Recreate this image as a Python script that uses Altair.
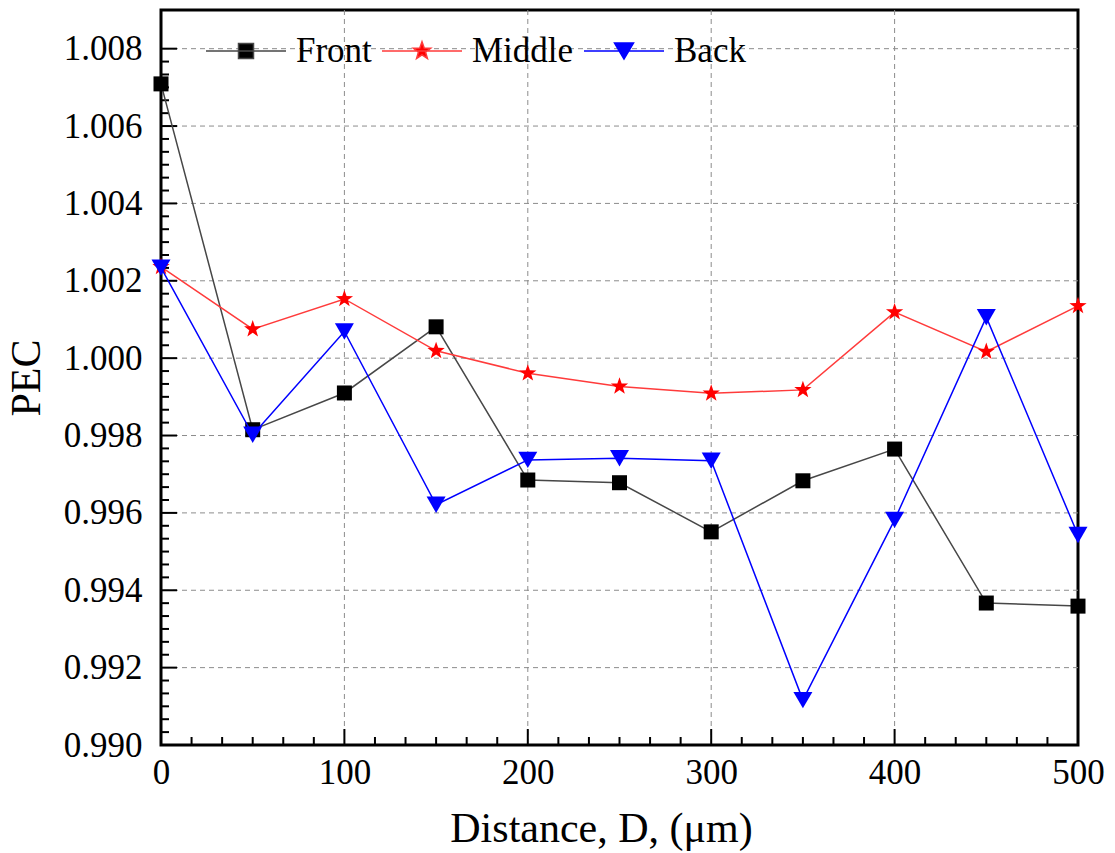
import math
import altair as alt
import pandas as pd

# Measured PEC along the sample, three positions
distance = [0, 50, 100, 150, 200, 250, 300, 350, 400, 450, 500]
front = [1.00709, 0.99815, 0.99910, 1.00081, 0.99685, 0.99678,
         0.99551, 0.99683, 0.99765, 0.99367, 0.99359]
middle = [1.00236, 1.00075, 1.00153, 1.00019, 0.99961, 0.99927,
          0.99909, 0.99918, 1.00119, 1.00017, 1.00135]
back = [1.00234, 0.99802, 1.00069, 0.99621, 0.99737, 0.99741,
        0.99735, 0.99116, 0.99582, 1.00106, 0.99543]

series = ["Front", "Middle", "Back"]
line_colors = ["#474747", "#ff3b3b", "#0000ff"]
marker_colors = ["#000000", "#ff0000", "#0000ff"]

x_major = [0, 100, 200, 300, 400, 500]
y_major = [0.990, 0.992, 0.994, 0.996, 0.998, 1.000, 1.002, 1.004, 1.006, 1.008]
x_grid = [100, 200, 300, 400]
y_grid = [0.992, 0.994, 0.996, 0.998, 1.000, 1.002, 1.004, 1.006, 1.008]
x_minor = [i * 100 / 6 for i in range(31) if i % 6]
y_minor = [0.990 + i * 0.002 / 6 for i in range(55) if i % 6]

FONT = "Liberation Serif"
W, H = 917, 735

df = pd.DataFrame({
    "distance": distance * 3,
    "pec": front + middle + back,
    "series": ["Front"] * 11 + ["Middle"] * 11 + ["Back"] * 11,
})


def star_path(outer, inner):
    pts = []
    for k in range(10):
        rad = outer if k % 2 == 0 else inner
        ang = -math.pi / 2 + k * math.pi / 5
        pts.append(f"{rad * math.cos(ang):.4f},{rad * math.sin(ang):.4f}")
    return "M" + "L".join(pts) + "Z"


star_marker = star_path(1.0, 0.4)
# legend keys: a short line with the marker in its middle
legend_shapes = [
    "M-1,0H1M-0.1875,-0.1875H0.1875V0.1875H-0.1875Z",
    "M-1,0H1" + star_path(0.23, 0.095),
    "M-1,0H1M-0.2375,-0.2L0.2375,-0.2L0,0.2Z",
]
marker_shapes = ["square", star_marker, "triangle-down"]
marker_sizes = [225, 330, 361]

x_scale = alt.Scale(domain=[0, 500], nice=False, zero=False)
y_scale = alt.Scale(domain=[0.990, 1.009], nice=False, zero=False)

x_axis = alt.Axis(
    title="Distance, D, (μm)", values=x_major, format="d",
    ticks=False, domain=False, grid=False,
    labelFont=FONT, labelPadding=10, labelFlush=False, labelOverlap=False,
    titleX=440, titleY=83, titleAlign="center", titleBaseline="middle",
)
y_axis = alt.Axis(
    title="PEC", values=y_major, format=".3f",
    ticks=False, domain=False, grid=False,
    labelFont=FONT, labelPadding=19, labelFlush=False, labelOverlap=False,
    titleX=-135, titleY=H / 2, titleAngle=270, titleAlign="center", titleBaseline="middle",
)

base = alt.Chart(df)

# axes with labels and titles
frame = base.mark_point(opacity=0).encode(
    x=alt.X("distance:Q", scale=x_scale, axis=x_axis),
    y=alt.Y("pec:Q", scale=y_scale, axis=y_axis),
)

# dashed grid at the interior major values
grid_x = alt.Chart(pd.DataFrame({"v": x_grid})).mark_rule(
    color="#8c8c8c", strokeWidth=1, strokeDash=[5, 4]
).encode(x=alt.X("v:Q", scale=x_scale))
grid_y = alt.Chart(pd.DataFrame({"v": y_grid})).mark_rule(
    color="#8c8c8c", strokeWidth=1, strokeDash=[5, 4]
).encode(y=alt.Y("v:Q", scale=y_scale))


def x_ticks(values, length):
    return alt.Chart(pd.DataFrame({"v": values})).mark_rule(
        color="black", strokeWidth=2
    ).encode(
        x=alt.X("v:Q", scale=x_scale),
        y=alt.value(H), y2=alt.value(H - length),
    )


def y_ticks(values, length):
    return alt.Chart(pd.DataFrame({"v": values})).mark_rule(
        color="black", strokeWidth=2
    ).encode(
        y=alt.Y("v:Q", scale=y_scale),
        x=alt.value(0), x2=alt.value(length),
    )


# inward ticks on the bottom and left edges
layers = [frame, grid_x, grid_y,
          x_ticks(x_major, 16), x_ticks(x_minor, 8),
          y_ticks(y_major, 16), y_ticks(y_minor, 8)]

for name, lc, mc, shp, sz in zip(series, line_colors, marker_colors, marker_shapes, marker_sizes):
    sub = base.transform_filter(alt.datum.series == name)
    layers.append(sub.mark_line(color=lc, strokeWidth=1.5).encode(
        x=alt.X("distance:Q", scale=x_scale),
        y=alt.Y("pec:Q", scale=y_scale),
    ))
    layers.append(sub.mark_point(shape=shp, size=sz, filled=True, color=mc, opacity=1).encode(
        x=alt.X("distance:Q", scale=x_scale),
        y=alt.Y("pec:Q", scale=y_scale),
    ))

legend = alt.Legend(
    title=None, orient="none", direction="horizontal", columns=3,
    legendX=44, legendY=0, padding=0, columnPadding=7,
    symbolSize=6400, symbolStrokeWidth=1.5, symbolOpacity=1,
    labelOffset=9, labelBaseline="middle",
)
legend_layer = base.mark_point(filled=True, opacity=0).encode(
    x=alt.X("distance:Q", scale=x_scale),
    y=alt.Y("pec:Q", scale=y_scale),
    shape=alt.Shape("series:N", scale=alt.Scale(domain=series, range=legend_shapes), legend=legend),
    fill=alt.Fill("series:N", scale=alt.Scale(domain=series, range=marker_colors), legend=legend),
    stroke=alt.Stroke("series:N", scale=alt.Scale(domain=series, range=line_colors), legend=legend),
)
layers.append(legend_layer)

chart = alt.layer(*layers).properties(
    width=W, height=H,
    autosize=alt.AutoSizeParams(type="none"),
    padding={"left": 161, "top": 10, "right": 37, "bottom": 108},
    background="white",
).configure_view(
    stroke="black", strokeWidth=3,
).configure_axis(
    labelFont=FONT, labelFontSize=35, labelColor="black",
    titleFont=FONT, titleFontSize=42, titleFontWeight="normal", titleColor="black",
).configure_legend(
    labelFont=FONT, labelFontSize=35, labelColor="black",
)

chart.save("out.html", embed_options={"renderer": "svg", "actions": False})
